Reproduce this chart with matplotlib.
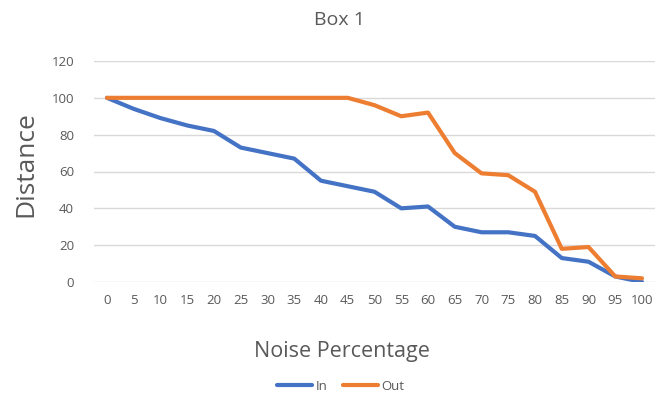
import numpy as np
import matplotlib.pyplot as plt

# Data
noise = ['0', '5', '10', '15', '20', '25', '30', '35', '40', '45', '50',
         '55', '60', '65', '70', '75', '80', '85', '90', '95', '100']
dist_in = [100, 94, 89, 85, 82, 73, 70, 67, 55, 52, 49,
           40, 41, 30, 27, 27, 25, 13, 11, 3, 0]
dist_out = [100, 100, 100, 100, 100, 100, 100, 100, 100, 100, 96,
            90, 92, 70, 59, 58, 49, 18, 19, 3, 2]

plt.rcParams['font.family'] = ['Open Sans', 'DejaVu Sans']
txt = '#595959'

fig = plt.figure(figsize=(6.56, 3.96), dpi=100)
ax = fig.add_axes([93.6/656, 1 - 282/396, (655.4 - 93.6)/656, (282 - 61)/396])

x = np.arange(len(noise))
ax.plot(x, dist_in, color='#4472C4', lw=3, label='In', solid_capstyle='round', solid_joinstyle='round')
ax.plot(x, dist_out, color='#ED7D31', lw=3, label='Out', solid_capstyle='round', solid_joinstyle='round')

ax.set_xlim(-0.5, len(noise) - 0.5)
ax.set_ylim(0, 120)
ax.set_yticks(range(0, 121, 20))
ax.set_xticks(x)
ax.set_xticklabels(noise)
ax.grid(axis='y', color='#d9d9d9', lw=1)
ax.set_axisbelow(True)
for s in ax.spines.values():
    s.set_visible(False)
ax.tick_params(length=0, colors=txt, labelsize=9.5)
ax.tick_params(axis='y', pad=14)
ax.tick_params(axis='x', pad=9)

# axis titles placed in figure pixels to match the Excel layout
ax.set_ylabel('Distance', fontsize=19, color=txt, va='center', ha='center')
ax.yaxis.set_label_coords(26/656, 1 - 164/396, transform=fig.transFigure)
fig.text(342/656, 1 - 351/396, 'Noise Percentage', ha='center', va='center', fontsize=15.5, color=txt)
fig.text(339/656, 1 - 20/396, 'Box 1', ha='center', va='center', fontsize=14, color=txt)

fig.legend(loc='center', bbox_to_anchor=(341/656, 1 - 386/396), ncol=2, frameon=False,
           fontsize=9.5, labelcolor=txt, handlelength=2.6, handletextpad=0.3, columnspacing=1.2)

fig.savefig('out.png', dpi=100)
